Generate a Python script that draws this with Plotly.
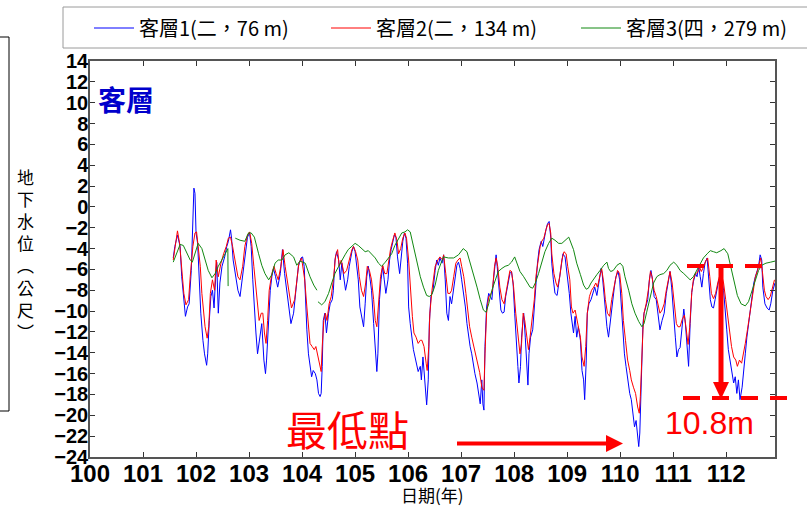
import plotly.graph_objects as go

# ---------------- data ----------------
x_tick_vals = list(range(100, 113))
y_tick_vals = list(range(-24, 15, 2))
series_names = ["客層1(二，76 m)", "客層2(二，134 m)", "客層3(四，279 m)"]

blue_t = [101.57,101.60,101.65,101.70,101.73,101.77,101.80,101.84,101.87,101.91,
          101.94,101.96,101.98,102.00,102.03,102.06,102.09,102.13,102.16,102.20,
          102.22,102.25,102.28,102.31,102.34,102.36,102.39,102.42,102.45,102.49,
          102.54,102.58,102.61,102.65,102.67,102.70,102.75,102.79,102.83,102.87,
          102.92,102.97,103.01,103.04,103.07,103.10,103.13,103.16,103.19,103.24,
          103.28,103.31,103.33,103.37,103.40,103.43,103.46,103.50,103.54,103.59,
          103.63,103.67,103.71,103.75,103.79,103.84,103.88,103.93,103.98,104.01,
          104.04,104.06,104.09,104.12,104.15,104.18,104.21,104.25,104.28,104.31,
          104.34,104.36,104.38,104.40,104.43,104.46,104.50,104.53,104.57,104.59,
          104.62,104.65,104.69,104.72,104.75,104.78,104.82,104.86,104.89,104.94,
          104.97,105.00,105.03,105.06,105.09,105.13,105.16,105.19,105.22,105.25,
          105.28,105.31,105.35,105.38,105.41,105.43,105.46,105.49,105.52,105.55,
          105.58,105.62,105.65,105.68,105.71,105.74,105.77,105.80,105.84,105.87,
          105.90,105.93,105.96,105.99,106.01,106.04,106.07,106.10,106.13,106.16,
          106.19,106.23,106.25,106.28,106.30,106.33,106.35,106.38,106.40,106.43,
          106.47,106.51,106.54,106.57,106.60,106.64,106.67,106.70,106.73,106.76,
          106.79,106.82,106.86,106.89,106.92,106.95,106.98,107.01,107.04,107.08,
          107.11,107.14,107.17,107.20,107.23,107.26,107.30,107.33,107.36,107.39,
          107.41,107.43,107.45,107.48,107.52,107.55,107.58,107.61,107.64,107.66,
          107.68,107.72,107.75,107.78,107.81,107.84,107.88,107.92,107.95,107.98,
          108.01,108.04,108.07,108.09,108.12,108.14,108.18,108.21,108.24,108.26,
          108.28,108.31,108.35,108.38,108.41,108.44,108.47,108.51,108.54,108.57,
          108.60,108.63,108.66,108.69,108.71,108.74,108.77,108.81,108.85,108.89,
          108.92,108.96,109.00,109.04,109.07,109.09,109.12,109.15,109.18,109.21,
          109.25,109.28,109.31,109.33,109.36,109.38,109.41,109.45,109.48,109.52,
          109.56,109.60,109.64,109.66,109.69,109.72,109.75,109.78,109.81,109.85,
          109.89,109.92,109.96,109.99,110.02,110.05,110.08,110.11,110.15,110.18,
          110.21,110.24,110.27,110.30,110.33,110.35,110.37,110.39,110.41,110.43,
          110.45,110.48,110.52,110.55,110.58,110.61,110.64,110.68,110.72,110.75,
          110.79,110.83,110.87,110.91,110.94,110.97,111.01,111.04,111.07,111.10,
          111.13,111.16,111.20,111.23,111.26,111.29,111.32,111.35,111.38,111.42,
          111.45,111.48,111.51,111.54,111.57,111.60,111.64,111.67,111.70,111.73,
          111.76,111.79,111.82,111.86,111.89,111.92,111.95,111.98,112.01,112.04,
          112.08,112.11,112.14,112.17,112.20,112.23,112.26,112.30,112.33,112.36,
          112.39,112.42,112.45,112.48,112.52,112.55,112.58,112.61,112.64,112.67,
          112.69,112.73,112.77,112.81,112.84,112.88,112.92]
blue_v = [-4.9,-3.8,-2.7,-3.8,-6.7,-9.3,-10.5,-9.6,-9.3,-6.1,
          -1.3,1.8,1.3,-2.5,-3.5,-6.7,-10.2,-12.8,-14.1,-15.2,
          -14.1,-10.9,-8.6,-8.0,-9.7,-7.7,-5.3,-10.2,-7.3,-5.7,
          -4.8,-3.8,-3.3,-2.2,-3.0,-5.1,-7.0,-8.0,-8.6,-7.0,
          -4.5,-2.9,-2.5,-3.8,-7.0,-10.2,-12.1,-14.1,-12.8,-11.2,
          -14.7,-16.0,-14.7,-10.9,-8.0,-6.7,-5.9,-6.7,-7.7,-6.4,
          -4.1,-6.4,-8.0,-9.9,-11.2,-10.2,-8.0,-5.7,-4.9,-4.8,
          -5.7,-8.6,-11.8,-14.1,-15.3,-16.3,-15.7,-16.0,-16.6,-17.9,
          -18.2,-17.9,-15.3,-10.9,-10.2,-12.1,-10.2,-9.3,-8.9,-8.0,
          -5.1,-4.3,-5.1,-7.0,-5.4,-6.7,-8.0,-7.0,-5.7,-4.3,
          -3.8,-4.3,-5.7,-7.0,-9.6,-10.9,-11.5,-9.3,-6.7,-5.7,
          -7.0,-8.0,-11.2,-13.4,-15.8,-14.1,-8.9,-7.0,-5.7,-7.0,
          -8.3,-7.0,-5.1,-4.1,-3.2,-2.7,-2.9,-4.8,-6.4,-4.8,
          -3.3,-2.5,-3.0,-5.4,-9.6,-11.2,-12.5,-13.7,-14.4,-15.3,
          -15.8,-15.3,-16.6,-14.4,-15.7,-17.9,-19.0,-16.6,-11.2,-8.6,
          -8.0,-6.1,-5.1,-5.6,-4.9,-5.4,-4.6,-7.0,-10.2,-10.9,
          -8.6,-9.3,-7.7,-6.4,-5.6,-5.3,-5.9,-7.0,-8.0,-9.6,
          -11.2,-12.5,-13.4,-14.1,-15.3,-16.0,-16.9,-18.2,-18.9,-16.6,
          -18.9,-19.5,-13.4,-9.6,-8.3,-8.6,-8.9,-7.0,-5.1,-4.6,
          -5.7,-8.0,-9.9,-10.2,-10.1,-8.6,-7.3,-6.4,-6.2,-7.3,
          -10.2,-13.4,-15.3,-16.9,-15.3,-12.5,-10.2,-12.5,-15.3,-17.1,
          -14.1,-12.5,-11.8,-9.6,-7.0,-5.4,-4.1,-3.3,-3.8,-2.9,
          -2.2,-1.6,-1.4,-2.9,-5.4,-7.0,-8.3,-8.5,-7.0,-5.4,
          -4.5,-4.8,-6.4,-8.3,-10.2,-10.9,-12.1,-10.5,-12.5,-11.5,
          -12.8,-15.7,-16.6,-18.5,-14.7,-10.2,-9.3,-8.9,-8.3,-7.7,
          -8.5,-7.0,-5.9,-6.4,-8.3,-9.6,-11.5,-12.5,-11.2,-8.9,
          -7.7,-6.7,-6.2,-7.0,-9.6,-11.8,-14.1,-15.3,-16.9,-17.9,
          -18.5,-19.8,-21.1,-20.5,-22.1,-23.0,-21.7,-17.9,-12.8,-11.2,
          -10.2,-9.6,-8.9,-7.0,-6.1,-7.0,-8.6,-8.9,-10.5,-11.8,
          -10.9,-10.2,-8.3,-7.0,-6.2,-7.7,-10.9,-12.5,-14.4,-13.7,
          -13.5,-11.8,-9.8,-11.2,-13.5,-15.3,-11.2,-8.2,-7.2,-6.4,
          -6.7,-5.7,-6.7,-7.7,-6.4,-5.4,-4.9,-7.0,-8.9,-9.6,
          -9.7,-8.9,-8.0,-7.0,-6.7,-7.0,-8.0,-9.6,-11.8,-13.7,
          -15.0,-16.0,-16.9,-16.3,-17.9,-16.6,-18.5,-17.3,-15.3,-14.1,
          -12.5,-11.2,-10.5,-8.9,-7.3,-6.7,-6.1,-5.7,-4.6,-5.1,
          -7.7,-9.3,-9.7,-9.9,-9.3,-8.0,-7.3]

red_t = [101.57,101.62,101.65,101.69,101.73,101.77,101.81,101.86,101.89,101.94,
         101.98,102.01,102.04,102.08,102.11,102.14,102.17,102.21,102.24,102.27,
         102.31,102.35,102.38,102.42,102.47,102.52,102.57,102.61,102.65,102.69,
         102.74,102.79,102.83,102.88,102.92,102.97,103.01,103.05,103.09,103.14,
         103.19,103.23,103.26,103.29,103.32,103.35,103.38,103.43,103.47,103.51,
         103.55,103.60,103.64,103.68,103.72,103.76,103.80,103.86,103.90,103.94,
         103.99,104.05,104.09,104.12,104.15,104.19,104.23,104.26,104.30,104.33,
         104.36,104.38,104.41,104.44,104.47,104.51,104.55,104.59,104.63,104.67,
         104.70,104.74,104.79,104.84,104.89,104.94,104.97,105.01,105.05,105.08,
         105.12,105.16,105.20,105.23,105.27,105.31,105.35,105.38,105.41,105.45,
         105.48,105.52,105.56,105.60,105.64,105.67,105.71,105.75,105.79,105.82,
         105.86,105.90,105.94,105.97,106.01,106.04,106.08,106.11,106.15,106.19,
         106.23,106.26,106.30,106.34,106.36,106.39,106.41,106.45,106.49,106.51,
         106.56,106.60,106.65,106.67,106.71,106.75,106.79,106.82,106.86,106.90,
         106.94,106.98,107.01,107.05,107.09,107.13,107.16,107.20,107.24,107.28,
         107.31,107.35,107.39,107.43,107.45,107.48,107.52,107.55,107.59,107.63,
         107.66,107.69,107.73,107.77,107.81,107.84,107.88,107.92,107.95,107.99,
         108.03,108.07,108.11,108.14,108.17,108.20,108.24,108.27,108.30,108.34,
         108.38,108.41,108.45,108.49,108.52,108.56,108.60,108.63,108.66,108.69,
         108.71,108.75,108.79,108.82,108.86,108.90,108.94,108.98,109.01,109.05,
         109.08,109.11,109.15,109.20,109.25,109.28,109.32,109.35,109.38,109.42,
         109.46,109.50,109.54,109.57,109.61,109.65,109.69,109.72,109.76,109.80,
         109.84,109.87,109.91,109.95,109.99,110.03,110.06,110.10,110.14,110.18,
         110.21,110.25,110.29,110.33,110.36,110.38,110.40,110.43,110.45,110.49,
         110.53,110.57,110.60,110.64,110.68,110.72,110.75,110.79,110.83,110.87,
         110.91,110.94,110.98,111.02,111.06,111.09,111.13,111.17,111.21,111.24,
         111.28,111.31,111.35,111.38,111.42,111.46,111.50,111.53,111.57,111.61,
         111.65,111.69,111.72,111.76,111.80,111.84,111.87,111.91,111.95,111.99,
         112.03,112.06,112.10,112.14,112.18,112.21,112.25,112.29,112.33,112.36,
         112.40,112.44,112.48,112.52,112.55,112.59,112.63,112.65,112.68,112.72,
         112.75,112.79,112.83,112.87,112.91]
red_v = [-5.1,-3.2,-2.3,-3.5,-5.7,-8.3,-9.4,-8.9,-6.7,-3.8,
         -2.5,-2.4,-3.8,-5.7,-8.3,-10.2,-11.5,-12.6,-11.5,-8.3,
         -7.0,-8.0,-5.1,-6.7,-5.4,-4.5,-3.8,-3.0,-2.9,-3.8,
         -5.4,-6.7,-7.0,-5.7,-3.8,-2.7,-2.4,-3.5,-5.7,-8.3,
         -10.9,-10.2,-10.2,-12.1,-13.1,-10.9,-8.0,-6.4,-5.7,-6.4,
         -7.0,-5.7,-4.1,-5.7,-7.0,-8.6,-9.7,-8.9,-7.0,-5.4,
         -4.9,-7.0,-9.6,-11.8,-13.1,-13.4,-13.7,-13.4,-14.4,-15.3,
         -15.8,-13.4,-10.9,-10.2,-10.9,-9.3,-8.6,-7.0,-4.8,-4.1,
         -5.7,-5.1,-6.4,-6.1,-5.1,-4.1,-3.8,-4.3,-5.1,-6.7,
         -8.0,-8.6,-7.3,-5.7,-6.1,-7.0,-8.9,-10.9,-11.5,-8.9,
         -6.7,-5.6,-6.4,-6.4,-5.1,-4.0,-3.2,-2.5,-3.2,-4.5,
         -4.0,-3.0,-2.5,-3.0,-5.1,-8.0,-10.5,-12.1,-12.5,-13.1,
         -12.8,-12.8,-13.4,-15.0,-15.7,-13.4,-10.2,-8.0,-6.7,-5.7,
         -5.1,-4.8,-5.1,-4.6,-6.4,-8.3,-8.3,-8.0,-6.7,-5.4,
         -5.1,-4.9,-5.7,-6.7,-8.3,-10.2,-11.5,-12.5,-13.4,-14.1,
         -14.7,-15.9,-17.3,-17.6,-14.1,-10.2,-8.6,-8.5,-8.0,-5.7,
         -4.9,-5.7,-7.7,-8.9,-9.3,-8.3,-7.0,-6.1,-6.2,-7.7,
         -10.2,-12.1,-14.1,-13.1,-10.2,-10.9,-12.5,-13.7,-12.5,-10.9,
         -8.9,-6.7,-5.1,-3.8,-3.3,-3.0,-2.2,-1.7,-1.6,-2.5,
         -4.5,-6.4,-7.3,-7.7,-6.7,-5.1,-4.3,-4.5,-5.7,-7.0,
         -9.6,-10.2,-9.9,-11.2,-12.5,-14.4,-15.3,-13.4,-10.2,-8.6,
         -8.0,-7.7,-7.3,-7.7,-6.7,-5.9,-7.3,-8.9,-10.2,-10.5,
         -8.9,-8.0,-7.0,-6.1,-6.4,-8.3,-10.9,-12.8,-14.7,-15.7,
         -16.6,-17.3,-17.9,-19.2,-19.8,-18.2,-14.7,-11.8,-10.2,-9.3,
         -8.0,-6.2,-6.7,-8.0,-8.6,-9.6,-10.2,-9.9,-9.3,-8.0,
         -7.0,-6.2,-7.3,-9.6,-11.2,-11.5,-11.5,-10.8,-10.4,-11.5,
         -13.2,-11.6,-8.2,-7.0,-6.4,-6.3,-5.8,-6.2,-5.8,-5.2,
         -4.9,-6.7,-8.3,-8.8,-8.3,-7.3,-6.7,-6.5,-7.3,-8.9,
         -10.5,-12.1,-13.4,-14.4,-14.7,-15.3,-14.7,-15.0,-14.1,-13.1,
         -11.8,-10.5,-9.3,-7.7,-6.7,-6.1,-5.4,-4.9,-6.1,-8.0,
         -8.6,-8.9,-8.6,-7.7,-7.0]

green_t = [101.57,101.64,101.70,101.76,101.82,101.89,101.93,101.98,102.04,102.11,
           102.17,102.23,102.30,102.36,102.42,102.49,102.55,102.60,102.605,102.67,
           102.74,102.83,102.92,102.99,103.04,103.10,103.18,103.24,103.30,103.37,
           103.43,103.49,103.55,103.62,103.68,103.75,103.84,103.90,103.96,104.06,
           104.15,104.22,104.28,104.29,104.30,104.37,104.43,104.50,104.56,104.62,
           104.69,104.75,104.81,104.87,104.94,105.00,105.06,105.12,105.19,105.25,
           105.31,105.38,105.44,105.50,105.57,105.63,105.69,105.75,105.82,105.88,
           105.94,105.99,106.04,106.10,106.16,106.23,106.29,106.35,106.40,106.45,
           106.51,106.57,106.62,106.67,106.76,106.86,106.95,107.04,107.11,107.17,
           107.23,107.30,107.36,107.42,107.47,107.52,107.58,107.64,107.70,107.77,
           107.83,107.89,107.95,108.01,108.05,108.11,108.18,108.24,108.30,108.35,
           108.40,108.46,108.52,108.58,108.65,108.71,108.77,108.84,108.90,108.96,
           109.03,109.12,109.18,109.25,109.31,109.36,109.40,109.45,109.50,109.56,
           109.62,109.69,109.75,109.78,109.82,109.87,109.94,110.00,110.05,110.09,
           110.16,110.22,110.28,110.35,110.41,110.45,110.50,110.57,110.63,110.69,
           110.75,110.82,110.88,110.94,111.01,111.07,111.13,111.20,111.26,111.32,
           111.38,111.45,111.51,111.57,111.64,111.70,111.76,111.82,111.90,111.96,
           112.03,112.09,112.15,112.21,112.28,112.36,112.42,112.48,112.55,112.61,
           112.67,112.75,112.84,112.92]
green_v = [-5.3,-4.3,-3.6,-3.7,-4.3,-5.1,-5.3,-4.5,-3.5,-4.0,
           -5.1,-6.1,-6.8,-6.4,-5.7,-5.1,-4.5,-4.0,-7.6,None,
           -3.0,-3.2,-3.3,-2.5,-2.5,-2.9,-4.5,-5.6,-6.4,-7.0,
           -6.5,-5.4,-5.1,-5.1,-4.6,-4.4,-4.8,-5.6,-5.2,-5.4,
           -6.7,-7.5,-8.0,None,-9.1,-9.4,-9.1,-8.3,-7.3,-6.4,
           -5.7,-5.1,-4.6,-4.1,-3.8,-3.5,-3.7,-4.0,-4.3,-4.2,
           -4.5,-4.9,-5.4,-5.7,-5.3,-4.9,-4.5,-3.7,-3.0,-2.5,
           -2.4,-2.2,-2.4,-3.8,-5.4,-6.7,-7.7,-8.5,-8.6,-8.4,
           -7.5,-6.1,-5.4,-4.8,-4.9,-4.9,-4.6,-4.0,-4.3,-5.3,
           -6.4,-7.7,-8.9,-9.9,-10.1,-9.3,-8.0,-7.0,-6.2,-5.9,
           -5.7,-5.6,-5.3,-4.8,-5.3,-6.2,-6.7,-7.2,-7.7,-7.8,
           -7.3,-6.4,-5.4,-4.3,-3.5,-3.0,-3.2,-3.5,-3.5,-3.2,
           -2.9,-4.1,-5.4,-6.5,-7.5,-7.9,-7.8,-7.3,-6.9,-6.5,
           -6.1,-5.6,-5.3,-5.9,-6.2,-6.1,-5.6,-5.4,-5.7,-6.7,
           -8.0,-9.3,-10.2,-11.0,-11.5,-11.2,-10.1,-8.6,-7.3,-6.7,
           -6.5,-6.4,-6.1,-5.6,-5.3,-5.6,-6.1,-6.4,-6.7,-7.0,
           -6.7,-6.0,-5.4,-4.9,-4.5,-4.2,-4.3,-4.4,-4.2,-4.0,
           -4.5,-5.9,-7.3,-8.5,-9.3,-9.5,-9.1,-8.1,-7.0,-6.1,
           -5.6,-5.4,-5.3,-5.2]

# ---------------- layout geometry ----------------
W, H = 807, 507
L, R, T, B = 90, 775, 61, 457


def xp(px):
    return (px - L) / (R - L)


def yp(py):
    return (B - py) / (B - T)


RED = "#FF0000"
CJK = "Noto Sans CJK TC"
NUM = "Liberation Sans, Arial"

fig = go.Figure()
fig.add_trace(go.Scatter(x=blue_t, y=blue_v, mode="lines", name=series_names[0],
                         line=dict(color="#0000FF", width=1), legendwidth=182))
fig.add_trace(go.Scatter(x=red_t, y=red_v, mode="lines", name=series_names[1],
                         line=dict(color="#FF0000", width=1), legendwidth=195))
fig.add_trace(go.Scatter(x=green_t, y=green_v, mode="lines", name=series_names[2],
                         line=dict(color="#118811", width=1), legendwidth=195))

axis_common = dict(showline=True, linecolor="#555555", linewidth=1.5, mirror="ticks",
                   ticks="inside", ticklen=5, tickwidth=1.2, tickcolor="#333333",
                   showgrid=False, zeroline=False)

fig.update_xaxes(range=[100, 112.92], tickvals=x_tick_vals, ticklabelstandoff=-6,
                 tickfont=dict(family=NUM, size=24, color="black", weight="bold"),
                 **axis_common)
fig.update_yaxes(range=[-24, 14], tickvals=y_tick_vals, ticklabelstandoff=-4,
                 tickfont=dict(family=NUM, size=20, color="black", weight="bold"),
                 **axis_common)

shapes = []
# legend frame (runs off the right edge as in the original)
shapes.append(dict(type="rect", xref="paper", yref="paper", x0=xp(63), y0=yp(48), x1=xp(815), y1=yp(7),
                   line=dict(color="#9a9a9a", width=1), fillcolor="white", layer="below"))
# remnant frame at the far left
for (x0, y0, x1, y1) in [(9, 37, 9, 411), (0, 37, 9, 37), (0, 411, 9, 411)]:
    shapes.append(dict(type="line", xref="paper", yref="paper", x0=xp(x0), y0=yp(y0), x1=xp(x1), y1=yp(y1),
                       line=dict(color="black", width=1)))
# horizontal arrow to the lowest point
shapes.append(dict(type="line", xref="paper", yref="paper", x0=xp(457), y0=yp(443.5), x1=xp(608), y1=yp(443.5),
                   line=dict(color=RED, width=4)))
shapes.append(dict(type="path", xref="paper", yref="paper",
                   path=f"M {xp(606)} {yp(435)} L {xp(623)} {yp(443.5)} L {xp(606)} {yp(452)} Z",
                   fillcolor=RED, line=dict(color=RED, width=0)))
# dashed level lines
shapes.append(dict(type="line", xref="paper", yref="paper", x0=xp(687), y0=yp(266), x1=xp(762), y1=yp(266),
                   line=dict(color=RED, width=4, dash="17px,12px")))
shapes.append(dict(type="line", xref="paper", yref="paper", x0=xp(683), y0=yp(398), x1=xp(787), y1=yp(398),
                   line=dict(color=RED, width=4, dash="17px,12px")))
# vertical drop arrow
shapes.append(dict(type="line", xref="paper", yref="paper", x0=xp(721), y0=yp(266), x1=xp(721), y1=yp(384),
                   line=dict(color=RED, width=5)))
shapes.append(dict(type="path", xref="paper", yref="paper",
                   path=f"M {xp(713)} {yp(382)} L {xp(729)} {yp(382)} L {xp(721)} {yp(399)} Z",
                   fillcolor=RED, line=dict(color=RED, width=0)))

annotations = [
    dict(text="客層", xref="paper", yref="paper", x=xp(96), y=yp(99), xanchor="left", yanchor="middle",
         showarrow=False, font=dict(family=CJK, size=28, color="#0000CC", weight="bold")),
    dict(text="最低點", xref="paper", yref="paper", x=xp(347), y=yp(428), xanchor="center", yanchor="middle",
         showarrow=False, font=dict(family=CJK, size=41, color=RED)),
    dict(text="10.8m", xref="paper", yref="paper", x=xp(709), y=yp(423), xanchor="center", yanchor="middle",
         showarrow=False, font=dict(family=NUM, size=32, color=RED)),
    dict(text="日期(年)", xref="paper", yref="paper", x=xp(432), y=yp(494.5), xanchor="center", yanchor="middle",
         showarrow=False, font=dict(family=CJK, size=17, color="black")),
    dict(text="<br>".join(["地", "下", "水", "位", "︵", "公", "尺", "︶"]), xref="paper", yref="paper",
         x=xp(25), y=yp(254), xanchor="center", yanchor="middle", showarrow=False, align="center",
         font=dict(family=CJK, size=17, color="black")),
]

fig.update_layout(
    width=W, height=H,
    margin=dict(l=L, r=W - R, t=T, b=H - B, autoexpand=False),
    paper_bgcolor="white", plot_bgcolor="white",
    showlegend=True,
    legend=dict(orientation="h", x=xp(89), y=yp(8.5), xanchor="left", yanchor="top",
                borderwidth=0, bgcolor="rgba(0,0,0,0)",
                font=dict(family=CJK, size=20, color="black"), itemwidth=40,
                valign="middle"),
    shapes=shapes, annotations=annotations,
)

fig.write_html("out.html", config={"displayModeBar": False},
               post_script="document.body.style.margin='0px';")
